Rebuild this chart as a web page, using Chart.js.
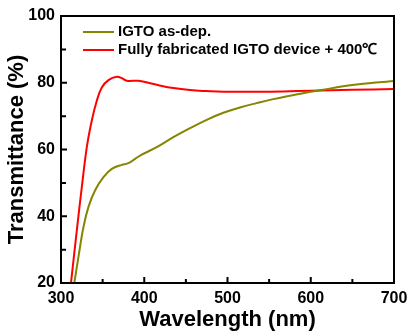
<!DOCTYPE html>
<html>
<head>
<meta charset="utf-8">
<script src="https://cdn.jsdelivr.net/npm/chart.js@4"></script>
<style>
  html, body { margin: 0; padding: 0; background: #fff; }
  #wrap { width: 407px; height: 331px; }
</style>
</head>
<body>
<div id="wrap"><canvas id="myChart"></canvas></div>
<script>
// IGTO as-dep.
const greenWavelength = [316, 321, 327, 333, 341, 351, 361, 373, 381, 389, 395, 415, 435, 455, 475, 495, 515, 535, 555, 575, 595, 615, 635, 655, 675, 700];
const greenT = [20, 27.9, 36.8, 42.8, 47.8, 51.7, 54.2, 55.4, 55.9, 57.2, 58.2, 60.7, 63.7, 66.4, 68.9, 71.0, 72.6, 73.9, 75.1, 76.1, 77.1, 77.9, 78.8, 79.5, 80.0, 80.5];

// Fully fabricated device + 400C
const redWavelength = [312, 319, 325, 331, 337, 343, 349, 357, 367, 373, 379, 393, 405, 415, 435, 455, 475, 495, 535, 567, 600, 650, 700];
const redT = [20, 35.8, 48.7, 60.7, 68.7, 74.6, 78.6, 80.8, 81.8, 81.4, 80.6, 80.6, 80.0, 79.4, 78.4, 77.8, 77.5, 77.3, 77.3, 77.4, 77.6, 77.9, 78.1];

const labels = ['IGTO as-dep.', 'Fully fabricated IGTO device + 400\u2103'];
const xTicks = [300, 400, 500, 600, 700];
const yTicks = [20, 40, 60, 80, 100];

const toPoints = (xs, ys) => xs.map((x, i) => ({ x: x, y: ys[i] }));

const FONT = 'Arial, "Liberation Sans", sans-serif';

// frame, inward ticks and the legend inside the plot
const framePlugin = {
  id: 'frame',
  afterDraw(chart) {
    const ctx = chart.ctx;
    const a = chart.chartArea;
    const xs = chart.scales.x, ys = chart.scales.y;
    ctx.save();
    ctx.strokeStyle = '#000';
    ctx.lineWidth = 2;
    ctx.strokeRect(a.left, a.top, a.right - a.left, a.bottom - a.top);
    ctx.beginPath();
    for (let v = 300; v <= 700; v += 50) {
      const px = xs.getPixelForValue(v);
      const len = v % 100 === 0 ? 6 : 4;
      ctx.moveTo(px, a.bottom);
      ctx.lineTo(px, a.bottom - len);
    }
    for (let v = 20; v <= 100; v += 10) {
      const py = ys.getPixelForValue(v);
      const len = v % 20 === 0 ? 6 : 5;
      ctx.moveTo(a.left, py);
      ctx.lineTo(a.left + len, py);
    }
    ctx.stroke();

    // legend
    ctx.font = 'bold 15px ' + FONT;
    ctx.textBaseline = 'middle';
    ctx.fillStyle = '#000';
    chart.data.datasets.forEach((ds, i) => {
      const y = 32 + i * 18;
      ctx.strokeStyle = ds.borderColor;
      ctx.lineWidth = 2;
      ctx.beginPath();
      ctx.moveTo(83, y);
      ctx.lineTo(114, y);
      ctx.stroke();
      ctx.fillText(ds.label, 118, y);
    });
    ctx.restore();
  }
};

const config = {
  type: 'line',
  data: {
    datasets: [
      {
        label: labels[0],
        data: toPoints(greenWavelength, greenT),
        borderColor: '#858500',
        borderWidth: 2,
        pointRadius: 0,
        tension: 0.4
      },
      {
        label: labels[1],
        data: toPoints(redWavelength, redT),
        borderColor: '#ff0000',
        borderWidth: 2,
        pointRadius: 0,
        tension: 0.4
      }
    ]
  },
  options: {
    responsive: true,
    maintainAspectRatio: false,
    animation: false,
    layout: { padding: { top: 16, right: 13, left: 0, bottom: 0 } },
    plugins: { legend: { display: false }, tooltip: { enabled: false } },
    scales: {
      x: {
        type: 'linear',
        min: 300,
        max: 700,
        afterBuildTicks: (s) => { s.ticks = xTicks.map(v => ({ value: v })); },
        afterFit: (s) => { s.height = 48; s.paddingLeft = 0; s.paddingRight = 0; },
        grid: { display: false, drawTicks: false },
        border: { display: false },
        ticks: { color: '#000', padding: 6, maxRotation: 0, font: { family: FONT, size: 16, weight: 'bold' } },
        title: {
          display: true,
          text: 'Wavelength (nm)',
          color: '#000',
          padding: { top: 0, bottom: 0 },
          font: { family: FONT, size: 22, weight: 'bold', lineHeight: 1 }
        }
      },
      y: {
        min: 20,
        max: 100,
        afterBuildTicks: (s) => { s.ticks = yTicks.map(v => ({ value: v })); },
        afterFit: (s) => { s.width = 61; s.paddingTop = 0; s.paddingBottom = 0; },
        grid: { display: false, drawTicks: false },
        border: { display: false },
        ticks: { color: '#000', padding: 6, font: { family: FONT, size: 16, weight: 'bold' } },
        title: {
          display: true,
          text: 'Transmittance (%)',
          color: '#000',
          padding: { top: 6, bottom: 0 },
          font: { family: FONT, size: 22, weight: 'bold', lineHeight: 1 }
        }
      }
    }
  },
  plugins: [framePlugin]
};

const myChart = new Chart(document.getElementById('myChart'), config);
</script>
</body>
</html>
